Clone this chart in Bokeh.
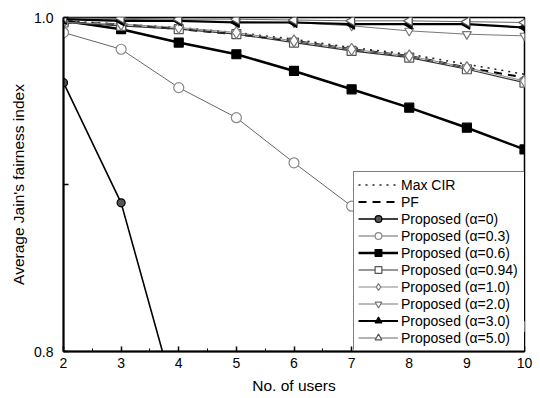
import math
from bokeh.plotting import figure
from bokeh.models import (Legend, LegendItem, FixedTicker, SingleIntervalTicker, Range1d)
from bokeh.embed import file_html
from bokeh.resources import INLINE

users = [2, 3, 4, 5, 6, 7, 8, 9, 10]
max_cir = [0.998, 0.996, 0.994, 0.991, 0.987, 0.982, 0.978, 0.972, 0.966]
pf = [0.997, 0.996, 0.993, 0.990, 0.986, 0.981, 0.977, 0.970, 0.964]
prop_a0 = [0.961, 0.889, 0.765, 0.680, 0.610, 0.550, 0.500, 0.460, 0.420]
prop_a03 = [0.991, 0.981, 0.958, 0.940, 0.913, 0.887, 0.862, 0.838, 0.815]
prop_a06 = [0.998, 0.993, 0.985, 0.978, 0.968, 0.957, 0.946, 0.934, 0.921]
prop_a094 = [0.997, 0.995, 0.993, 0.990, 0.985, 0.980, 0.976, 0.969, 0.961]
prop_a10 = [0.997, 0.996, 0.994, 0.991, 0.986, 0.981, 0.977, 0.970, 0.962]
prop_a20 = [0.999, 0.999, 0.998, 0.9976, 0.997, 0.995, 0.992, 0.990, 0.989]
prop_a30 = [0.999, 0.998, 0.998, 0.997, 0.997, 0.996, 0.996, 0.996, 0.994]
prop_a50 = [1.0, 0.9995, 0.999, 0.999, 0.9985, 0.998, 0.998, 0.9975, 0.997]

y_ticks = [0.8, 0.9, 1.0]
y_tick_labels = {0.8: "0.8", 0.9: "", 1.0: "1.0"}
x_label = "No. of users"
y_label = "Average Jain's fairness index"

p = figure(width=535, height=396, output_backend="svg", toolbar_location=None,
           x_range=Range1d(2, 10), y_range=Range1d(0.8, 1.0),
           min_border_left=63, min_border_top=17, min_border_right=11, min_border_bottom=44)
p.background_fill_color = "white"
p.border_fill_color = "white"
p.outline_line_color = "black"
p.outline_line_width = 1.5
p.grid.visible = False

FONT = "Liberation Sans"
for ax in (p.xaxis[0], p.yaxis[0]):
    ax.axis_line_width = 2
    ax.axis_line_color = "black"
    ax.major_tick_in = 5
    ax.major_tick_out = 0
    ax.minor_tick_in = 3
    ax.minor_tick_out = 0
    ax.major_tick_line_width = 1.5
    ax.major_label_text_font = FONT
    ax.major_label_text_font_size = "14px"
    ax.major_label_text_color = "black"
    ax.axis_label_text_font = FONT
    ax.axis_label_text_font_size = "15.5px"
    ax.axis_label_text_font_style = "normal"
    ax.axis_label_text_color = "black"

p.xaxis.ticker = SingleIntervalTicker(interval=1, num_minor_ticks=2)
p.xaxis.axis_label = x_label
p.xaxis.major_label_standoff = 6
p.xaxis.axis_label_standoff = 6
p.yaxis.ticker = FixedTicker(ticks=y_ticks, minor_ticks=[])
p.yaxis.major_label_overrides = y_tick_labels
p.yaxis.axis_label = y_label
p.yaxis.major_label_standoff = 10
p.yaxis.axis_label_standoff = 4

items = []

def series(label, ys, line_color, line_width, line_dash="solid", marker=None,
           fill_color=None, m_line=None, size=9, angle=0.0):
    rs = [p.line(users, ys, line_color=line_color, line_width=line_width, line_dash=line_dash)]
    if marker is not None:
        rs.append(p.scatter(users, ys, marker=marker, size=size, angle=angle,
                            fill_color=fill_color, line_color=m_line or line_color,
                            line_width=1.2))
    items.append(LegendItem(label=label, renderers=rs))

series("Max CIR", max_cir, "#222222", 1.5, line_dash="2 5")
series("PF", pf, "black", 2, line_dash="8 6")
series("Proposed (\u03b1=0)", prop_a0, "black", 1.6, marker="circle", fill_color="#555555", m_line="black", size=8)
series("Proposed (\u03b1=0.3)", prop_a03, "#666666", 1, marker="circle", fill_color="white", m_line="#888888", size=10)
series("Proposed (\u03b1=0.6)", prop_a06, "black", 2.5, marker="square", fill_color="black", size=9)
series("Proposed (\u03b1=0.94)", prop_a094, "#333333", 1.2, marker="square", fill_color="white", m_line="#555555", size=9)
series("Proposed (\u03b1=1.0)", prop_a10, "#888888", 1, marker="diamond", fill_color="white", m_line="#777777", size=12)
series("Proposed (\u03b1=2.0)", prop_a20, "#777777", 1, marker="inverted_triangle", fill_color="white", m_line="#777777", size=9)
series("Proposed (\u03b1=3.0)", prop_a30, "black", 2.2, marker="triangle", fill_color="black", size=10, angle=math.pi / 2)
series("Proposed (\u03b1=5.0)", prop_a50, "#666666", 1, marker="triangle", fill_color="white", m_line="#555555", size=10, angle=math.pi / 2)

legend = Legend(items=items, location=(290, 0))
legend.label_text_font = FONT
legend.label_text_font_size = "14px"
legend.label_text_color = "black"
legend.label_height = 17
legend.glyph_height = 17
legend.glyph_width = 40
legend.label_width = 122
legend.label_standoff = 3
legend.spacing = 0
legend.padding = 4
legend.margin = 0
legend.border_line_color = "black"
legend.border_line_width = 1.2
legend.background_fill_color = "white"
legend.background_fill_alpha = 1.0
p.add_layout(legend, "center")

open("out.html", "w").write(file_html(p, INLINE))
